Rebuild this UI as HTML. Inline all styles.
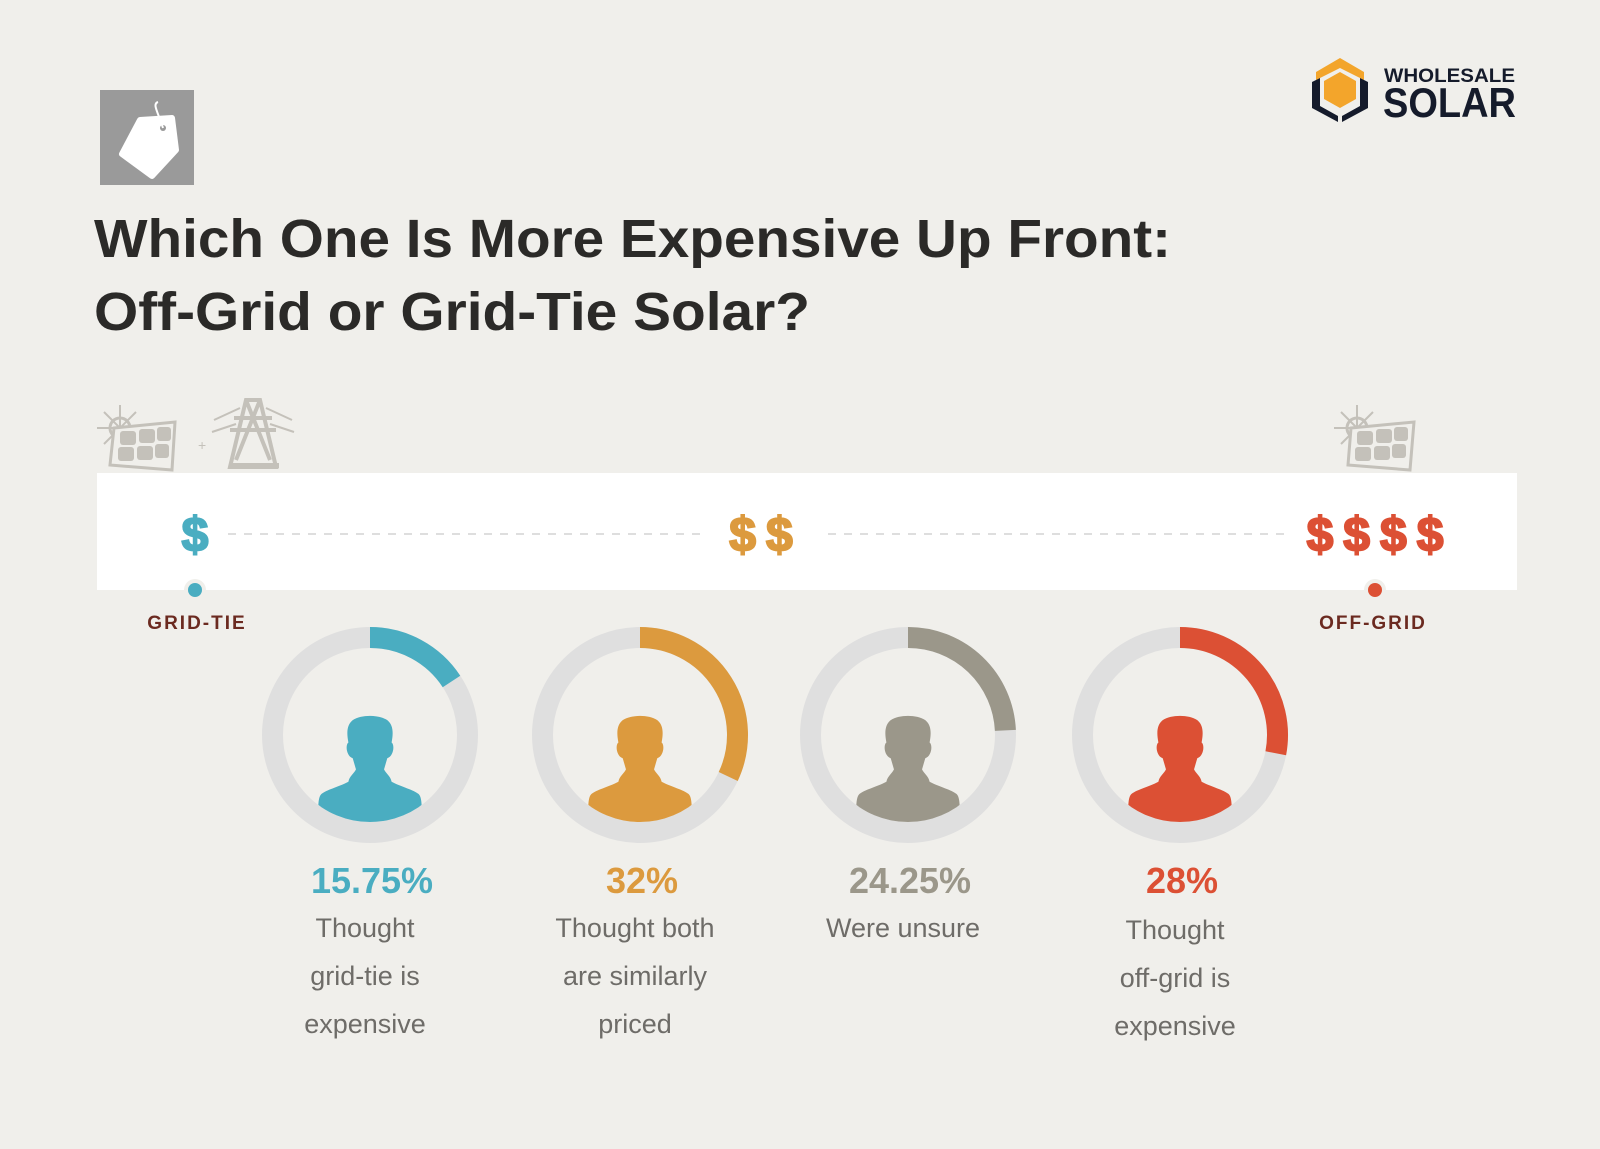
<!DOCTYPE html>
<html><head><meta charset="utf-8"><style>
html,body{margin:0;padding:0;background:#f0efeb;}
svg{display:block;font-family:"Liberation Sans",sans-serif;}
</style></head><body>
<svg width="1600" height="1149" viewBox="0 0 1600 1149">
<rect width="1600" height="1149" fill="#f0efeb"/>
<g>
<rect x="100" y="90" width="94" height="95" fill="#9a9a9a"/>
<path d="M140 120 L172 118 L176 150 L152 176 L122 154 Z" fill="#fff" stroke="#fff" stroke-width="6" stroke-linejoin="round"/>
<circle cx="163" cy="128" r="3" fill="#9a9a9a"/>
<path d="M163 128 C158 112 152 104 158 102" stroke="#fff" stroke-width="2" fill="none"/>
</g>
<g>
<path d="M1340 58 L1364 72 L1364 80 L1340 68 L1316 80 L1316 72 Z" fill="#f3a52b"/>
<path d="M1340 72 L1356 81 L1356 99 L1340 108 L1324 99 L1324 81 Z" fill="#f3a52b"/>
<path d="M1312 82 L1320 78 L1320 106 L1338 116 L1338 122 L1312 108 Z" fill="#151b2b"/>
<path d="M1368 82 L1360 78 L1360 106 L1342 116 L1342 122 L1368 108 Z" fill="#151b2b"/>
<text x="1384" y="82" font-size="19" font-weight="bold" fill="#151b2b" textLength="131" lengthAdjust="spacingAndGlyphs">WHOLESALE</text>
<text x="1383" y="117" font-size="42" font-weight="bold" fill="#151b2b" textLength="133" lengthAdjust="spacingAndGlyphs">SOLAR</text>
</g>
<g fill="#2b2a28" font-weight="bold" font-size="54">
<text x="94" y="257" textLength="1077" lengthAdjust="spacingAndGlyphs">Which One Is More Expensive Up Front:</text>
<text x="94" y="330" textLength="716" lengthAdjust="spacingAndGlyphs">Off-Grid or Grid-Tie Solar?</text>
</g>
<g fill="#c4c1ba" stroke="#c4c1ba">
<circle cx="120" cy="428" r="10" fill="none" stroke-width="3"/>
<path d="M120 405 L120 451 M97 428 L143 428 M104 412 L136 444 M104 444 L136 412" stroke-width="2"/>
<path d="M114 428 L175 422 L172 470 L110 465 Z" fill="#f0efeb" stroke-width="3"/>
<rect x="120" y="431" width="16" height="14" rx="3" stroke="none"/><rect x="139" y="429" width="16" height="14" rx="3" stroke="none"/><rect x="157" y="427" width="14" height="14" rx="3" stroke="none"/>
<rect x="118" y="447" width="16" height="14" rx="3" stroke="none"/><rect x="137" y="446" width="16" height="14" rx="3" stroke="none"/><rect x="155" y="444" width="14" height="14" rx="3" stroke="none"/>
<text x="198" y="450" font-size="14" stroke="none">+</text>
<path d="M246 400 L260 400 L276 467 L230 467 Z M234 418 L272 418 M230 430 L276 430 M246 400 L270 460 M260 400 L236 460" fill="none" stroke-width="4"/>
<path d="M214 420 L240 408 M212 432 L236 424 M292 420 L266 408 M294 432 L270 424" stroke-width="2"/>
<rect x="230" y="463" width="49" height="5" stroke="none"/>
</g>
<g fill="#c4c1ba" stroke="#c4c1ba">
<circle cx="1357" cy="428" r="10" fill="none" stroke-width="3"/>
<path d="M1357 405 L1357 451 M1334 428 L1380 428 M1341 412 L1373 444 M1341 444 L1373 412" stroke-width="2"/>
<path d="M1351 428 L1414 422 L1410 470 L1348 465 Z" fill="#f0efeb" stroke-width="3"/>
<rect x="1357" y="431" width="16" height="14" rx="3" stroke="none"/><rect x="1376" y="429" width="16" height="14" rx="3" stroke="none"/><rect x="1394" y="427" width="14" height="14" rx="3" stroke="none"/>
<rect x="1355" y="447" width="16" height="14" rx="3" stroke="none"/><rect x="1374" y="446" width="16" height="14" rx="3" stroke="none"/><rect x="1392" y="444" width="14" height="14" rx="3" stroke="none"/>
</g>
<g>
<rect x="97" y="473" width="1420" height="117" fill="#fff"/>
<line x1="228" y1="534" x2="700" y2="534" stroke="#d4d4d4" stroke-width="1.5" stroke-dasharray="8 8"/>
<line x1="828" y1="534" x2="1290" y2="534" stroke="#d4d4d4" stroke-width="1.5" stroke-dasharray="8 8"/>
<text x="195" y="551" font-size="48" font-weight="bold" fill="#4aadc1" stroke="#4aadc1" stroke-width="2" text-anchor="middle">$</text>
<text x="766" y="551" font-size="48" font-weight="bold" fill="#dc9a3e" stroke="#dc9a3e" stroke-width="2" text-anchor="middle" letter-spacing="10">$$</text>
<text x="1380" y="551" font-size="48" font-weight="bold" fill="#dc5034" stroke="#dc5034" stroke-width="2" text-anchor="middle" letter-spacing="10">$$$$</text>
<circle cx="195" cy="590" r="11" fill="#f0efeb"/><circle cx="195" cy="590" r="7" fill="#4aadc1"/>
<circle cx="1375" cy="590" r="11" fill="#f0efeb"/><circle cx="1375" cy="590" r="7" fill="#dc5034"/>
<text x="197" y="629" font-size="19" font-weight="bold" fill="#6b2a20" text-anchor="middle" letter-spacing="2">GRID-TIE</text>
<text x="1373" y="629" font-size="19" font-weight="bold" fill="#6b2a20" text-anchor="middle" letter-spacing="2">OFF-GRID</text>
</g>
<g id="donuts"></g>
<script>
const categories = ["Grid-tie expensive","Similarly priced","Unsure","Off-grid expensive"];
const values = [15.75, 32, 24.25, 28];
const valueLabels = ["15.75%","32%","24.25%","28%"];
const descriptions = [["Thought","grid-tie is","expensive"],["Thought  both","are similarly","priced"],["Were unsure"],["Thought","off-grid is","expensive"]];
const colors = ["#4aadc1","#dc9a3e","#9b978a","#dc5034"];
const NS = "http://www.w3.org/2000/svg";
const g = document.getElementById("donuts");
const cxs = [370, 640, 908, 1180];
const cy = 735, R = 97.5, W = 21;
function angle(v){ return v / 100 * 2 * Math.PI; }
function mk(tag, attrs, parent){ const e = document.createElementNS(NS, tag); for (const k in attrs) e.setAttribute(k, attrs[k]); parent.appendChild(e); return e; }
const defs = mk("defs", {}, g);
values.forEach((v, i) => {
  const cx = cxs[i];
  const cg = mk("g", {}, g);
  
  
  const track = mk("circle", {cx: cx, cy: cy, r: R, fill: "none", stroke: "#dfdfdf", "stroke-width": W}, cg);
  
  
  const a = angle(v);
  const x1 = cx, y1 = cy - R;
  const x2 = cx + R * Math.sin(a), y2 = cy - R * Math.cos(a);
  const arc = mk("path", {d: `M${x1} ${y1} A${R} ${R} 0 ${a > Math.PI ? 1 : 0} 1 ${x2} ${y2}`, fill: "none", stroke: colors[i], "stroke-width": W}, cg);
  
  
  const cp = mk("clipPath", {id: "cp" + i}, defs);
  mk("circle", {cx: cx, cy: cy, r: 87}, cp);
  const pg = mk("g", {"clip-path": `url(#cp${i})`}, cg);
  const p = mk("path", {fill: colors[i], transform: `translate(${cx} ${cy + 12}) scale(1.08 1.12) translate(${-cx} ${-cy})`, d:
    `M${cx-20} ${cy-4} C${cx-22} ${cy-14} ${cx-21} ${cy-20} ${cx-16} ${cy-24} C${cx-8} ${cy-29} ${cx+8} ${cy-29} ${cx+16} ${cy-24} C${cx+21} ${cy-20} ${cx+22} ${cy-14} ${cx+20} ${cy-4}
     C${cx+23} ${cy-2} ${cx+22} ${cy+8} ${cx+16} ${cy+10} L${cx+13} ${cy+20} C${cx+15} ${cy+24} ${cx+19} ${cy+26} ${cx+20} ${cy+31}
     C${cx+30} ${cy+36} ${cx+40} ${cy+38} ${cx+45} ${cy+42} C${cx+49} ${cy+46} ${cx+48} ${cy+56} ${cx+48} ${cy+95} L${cx-48} ${cy+95}
     C${cx-48} ${cy+56} ${cx-49} ${cy+46} ${cx-45} ${cy+42} C${cx-40} ${cy+38} ${cx-30} ${cy+36} ${cx-20} ${cy+31}
     C${cx-19} ${cy+26} ${cx-15} ${cy+24} ${cx-13} ${cy+20} L${cx-16} ${cy+10} C${cx-22} ${cy+8} ${cx-23} ${cy-2} ${cx-20} ${cy-4} Z`}, pg);
  
  
  const t = mk("text", {x: cx + 2, y: 893, "font-size": 36, "font-weight": "bold", fill: colors[i], "text-anchor": "middle"}, cg);
  t.textContent = valueLabels[i];
  
  
  const off = i === 3 ? 2 : 0;
  descriptions[i].forEach((line, j) => {
    const d = mk("text", {x: cx - 5, y: 937 + off + j * 48, "font-size": 27, fill: "#6e6c68", "text-anchor": "middle", "xml:space": "preserve"}, cg);
    d.textContent = line;
    
    
  });
});
</script>
</svg>
</body></html>
